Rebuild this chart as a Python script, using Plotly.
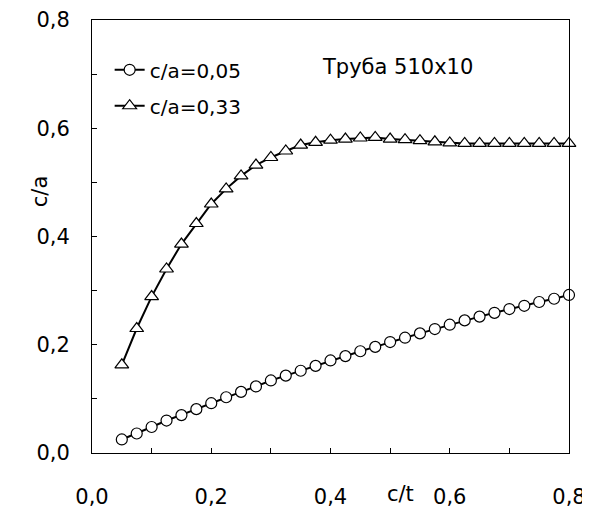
import plotly.graph_objects as go

x_vals = [0.05, 0.075, 0.1, 0.125, 0.15, 0.175, 0.2, 0.225, 0.25, 0.275,
          0.3, 0.325, 0.35, 0.375, 0.4, 0.425, 0.45, 0.475, 0.5, 0.525,
          0.55, 0.575, 0.6, 0.625, 0.65, 0.675, 0.7, 0.725, 0.75, 0.775, 0.8]

ca_005 = [0.025, 0.036, 0.048, 0.060, 0.070, 0.081, 0.092, 0.103, 0.113, 0.123,
          0.134, 0.143, 0.152, 0.161, 0.171, 0.179, 0.188, 0.196, 0.205, 0.213,
          0.221, 0.229, 0.237, 0.245, 0.252, 0.259, 0.266, 0.272, 0.279, 0.285, 0.292]

ca_033 = [0.163, 0.230, 0.289, 0.340, 0.386, 0.424, 0.460, 0.488, 0.512, 0.532,
          0.546, 0.558, 0.569, 0.574, 0.578, 0.580, 0.582, 0.583, 0.580, 0.579,
          0.577, 0.575, 0.573, 0.572, 0.572, 0.572, 0.572, 0.572, 0.572, 0.572, 0.572]

tick_vals = [0.0, 0.2, 0.4, 0.6, 0.8]
tick_text = ["0,0", "0,2", "0,4", "0,6", "0,8"]

FONT = "DejaVu Sans"

fig = go.Figure()
fig.add_trace(go.Scatter(
    x=x_vals, y=ca_005, mode="lines+markers", name="c/a=0,05",
    line=dict(color="black", width=2),
    marker=dict(symbol="circle", size=11, color="white",
                line=dict(color="black", width=1.2)),
    cliponaxis=False, legend="legend", showlegend=True))
fig.add_trace(go.Scatter(
    x=x_vals, y=ca_033, mode="lines+markers", name="c/a=0,33",
    line=dict(color="black", width=2),
    marker=dict(symbol="triangle-up", size=12, color="white",
                line=dict(color="black", width=1.2)),
    cliponaxis=False, legend="legend2", showlegend=True))

axis_common = dict(
    range=[0, 0.8], tickvals=tick_vals, ticktext=tick_text,
    ticks="inside", ticklen=5, tickwidth=1, tickcolor="black",
    minor=dict(dtick=0.1, ticks="inside", ticklen=5, tickwidth=1, tickcolor="black"),
    showline=True, linecolor="black", linewidth=1, mirror=True,
    showgrid=False, zeroline=False, automargin=False,
    tickfont=dict(family=FONT, size=21, color="black"),
)

fig.update_layout(
    width=582, height=510,
    margin=dict(l=84, r=21, t=12, b=65),
    paper_bgcolor="white", plot_bgcolor="white",
    showlegend=True,
    xaxis=dict(**axis_common, ticklabelstandoff=25),
    yaxis=dict(**axis_common, ticklabelstandoff=17),
    legend=dict(x=0.037, y=0.885, xanchor="left", yanchor="middle",
                bgcolor="rgba(0,0,0,0)", font=dict(family=FONT, size=20, color="black")),
    legend2=dict(x=0.037, y=0.802, xanchor="left", yanchor="middle",
                 bgcolor="rgba(0,0,0,0)", font=dict(family=FONT, size=20, color="black")),
    annotations=[
        dict(text="Труба 510x10", x=0.641, y=0.924, xref="paper", yref="paper",
             showarrow=False, font=dict(family=FONT, size=21, color="black")),
        dict(text="c/t", x=0.646, y=-0.127, xref="paper", yref="paper",
             showarrow=False, font=dict(family=FONT, size=21, color="black")),
        dict(text="c/a", x=-0.138, y=0.605, xref="paper", yref="paper",
             showarrow=False, textangle=-90, font=dict(family=FONT, size=21, color="black")),
    ],
)

fig.write_html("out.html")
